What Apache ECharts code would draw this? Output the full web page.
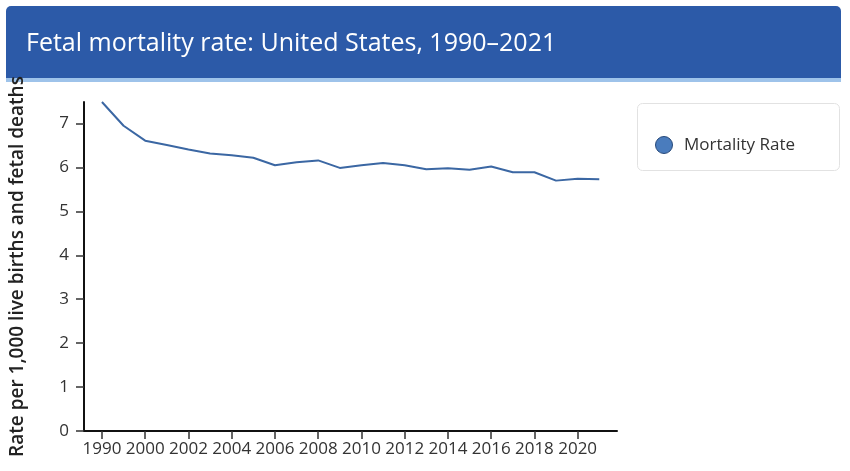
<!DOCTYPE html>
<html>
<head>
<meta charset="utf-8">
<script src="https://cdn.jsdelivr.net/npm/echarts@6/dist/echarts.min.js"></script>
<style>
html,body{margin:0;padding:0;background:#fff;}
#chart{width:850px;height:471px;}
</style>
</head>
<body>
<div id="chart"></div>
<script>
const years = ['1990','1995','2000','2001','2002','2003','2004','2005','2006','2007','2008','2009','2010','2011','2012','2013','2014','2015','2016','2017','2018','2019','2020','2021'];
const mortalityRate = [7.49,6.95,6.61,6.51,6.41,6.32,6.28,6.22,6.05,6.12,6.16,5.99,6.05,6.10,6.05,5.96,5.98,5.95,6.02,5.89,5.89,5.70,5.74,5.73];
const yTicks = [0,1,2,3,4,5,6,7];
const xLabelIdx = [0,2,4,6,8,10,12,14,16,18,20,22];

const chart = echarts.init(document.getElementById('chart'));
const seriesData = mortalityRate.map((v,i)=>[i,v]);
const font = 'Open Sans';
chart.setOption({
  animation:false,
  textStyle:{fontFamily:font},
  graphic:[
    {type:'rect',z:-1,shape:{x:6,y:6,width:835,height:73,r:[5,5,0,0]},style:{fill:'#2c5aa8'}},
    {type:'rect',z:-1,shape:{x:6,y:78,width:835,height:4},style:{fill:'#9ec3ea'}},
    {type:'text',z:-1,left:26,top:31,style:{text:'Fetal mortality rate: United States, 1990\u20132021',fill:'#fff',font:'25px "Open Sans"'}},
    {type:'rect',z:-1,shape:{x:637.5,y:103.5,width:202,height:67,r:5},style:{fill:'#fff',stroke:'#e2e2e2',lineWidth:1}}
  ],
  legend:{
    left:650, top:131, itemWidth:30, itemHeight:17,
    textStyle:{fontSize:17,color:'#333',fontFamily:font},
    data:[{name:'Mortality Rate',icon:'circle',itemStyle:{color:'#4a7cbd',borderColor:'#27497a',borderWidth:1}}]
  },
  grid:{left:82,right:233,top:102,bottom:40},
  xAxis:{
    type:'value', min:-0.83, max:23.82,
    splitLine:{show:false},
    axisLine:{show:true,onZero:false,lineStyle:{color:'#111',width:2}},
    axisTick:{show:true,length:8,customValues:xLabelIdx,lineStyle:{color:'#333',width:1.5}},
    axisLabel:{customValues:xLabelIdx,margin:10,fontSize:17,color:'#333',fontFamily:font,formatter:v=>years[Math.round(v)]}
  },
  yAxis:{
    type:'value', min:0, max:7.49,
    splitLine:{show:false},
    name:'Rate per 1,000 live births and fetal deaths',
    nameLocation:'middle', nameGap:57, nameRotate:90,
    nameTextStyle:{fontSize:19,fontWeight:600,color:'#222',fontFamily:font},
    axisLine:{show:true,onZero:false,lineStyle:{color:'#111',width:2}},
    axisTick:{show:true,length:8,customValues:yTicks,lineStyle:{color:'#333',width:1.5}},
    axisLabel:{customValues:yTicks,margin:15,fontSize:17,color:'#333',fontFamily:font}
  },
  series:[{
    name:'Mortality Rate', type:'line', data:seriesData, showSymbol:false, symbol:'none',
    lineStyle:{color:'#3b67a3',width:2},
    itemStyle:{color:'#4a7cbd'}
  }]
});
</script>
</body>
</html>
